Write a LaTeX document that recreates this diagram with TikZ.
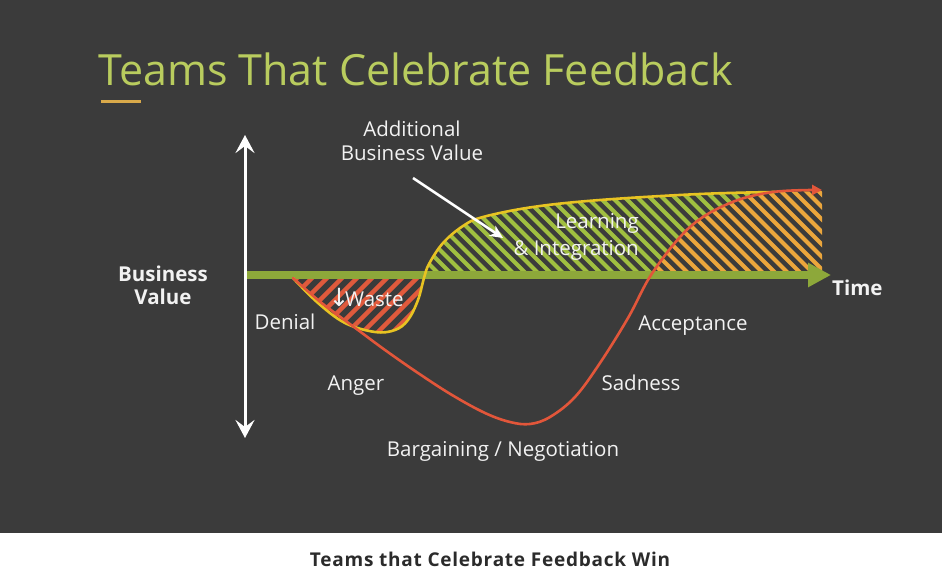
\documentclass[tikz,border=0pt]{standalone}
\usepackage{fontspec}
\setmainfont{Open Sans}
\newfontfamily\djv{DejaVu Sans}
\usetikzlibrary{arrows.meta}
\definecolor{bg}{HTML}{3B3B3B}
\definecolor{titleg}{HTML}{B9CC5E}
\definecolor{uline}{HTML}{D9A94A}
\definecolor{axisg}{HTML}{8DA83A}
\definecolor{hatchg}{HTML}{A0BE40}
\definecolor{curvey}{HTML}{E8C322}
\definecolor{curver}{HTML}{E2563A}
\definecolor{hatcho}{HTML}{EBA63C}
\definecolor{hatchr}{HTML}{E05A3C}
\definecolor{txtw}{HTML}{F2F2F2}
\definecolor{capt}{HTML}{2B2B2B}
\begin{document}
\begin{tikzpicture}[x=1pt,y=-1pt,
  lbl/.style={text=txtw, font=\fontsize{20.5}{24}\selectfont, inner sep=0pt, anchor=base},
  blbl/.style={text=txtw, font=\fontsize{20.5}{24}\selectfont\bfseries, inner sep=0pt, anchor=base},
  stripe/.style={line width=4pt},
  curve/.style={line width=2.6pt, line cap=round}]
\useasboundingbox (0,0) rectangle (942,569);
\fill[bg] (0,0) rectangle (942,533);
\fill[white] (0,533) rectangle (942,569);
% title
\node[anchor=base west, inner sep=0pt, text=titleg, font=\fontsize{43}{50}\selectfont] (title) at (98,86) {Teams That Celebrate Feedback};
\coordinate (ulA) at (101,102);
\coordinate (ulB) at (141,102);
\draw[uline, line width=3pt] (ulA) -- (ulB);
% hatched areas
\begin{scope}
\clip plot[smooth,tension=0.6] coordinates {(293,278) (318,303) (345,323) (375,332) (395,330) (408,320) (418,300) (424,278) (429,264) (443,243) (463,226) (483,217) (533,207) (600,200) (700,194) (775,192)} -- (822,191) -- (822,275) -- cycle;
 \begin{scope}
 \clip (280,275) rectangle (440,345);
 \foreach \i in {200,215,...,460} \draw[hatchr, line width=4.5pt] (\i,345) -- ++(80,-80);
 \end{scope}
 \begin{scope}
 \clip (420,150) rectangle (830,275);
 \clip plot[smooth,tension=0.6] coordinates {(293,278) (318,300) (335,313) (358,330) (385,350) (418,373) (452,395) (485,413) (510,422) (530,424) (550,417) (575,397) (600,363) (628,318) (653,272) (690,227) (730,203) (773,192) (827,190)} -- (827,100) -- (280,100) -- cycle;
 \foreach \i in {320,332.5,...,840} \draw[hatchg, stripe] (\i,180) -- ++(100,100);
 \end{scope}
 \begin{scope}
 \clip (420,150) rectangle (830,275);
 \clip plot[smooth,tension=0.6] coordinates {(293,278) (318,300) (335,313) (358,330) (385,350) (418,373) (452,395) (485,413) (510,422) (530,424) (550,417) (575,397) (600,363) (628,318) (653,272) (690,227) (730,203) (773,192) (827,190)} -- (900,190) -- (900,500) -- (280,500) -- cycle;
 \foreach \i in {320,332.5,...,840} \draw[hatcho, stripe] (\i,180) -- ++(100,100);
 \end{scope}
\end{scope}
% green time axis
\coordinate (xO) at (245,275);
\coordinate (xE) at (831,275);
\draw[axisg, line width=7.5pt, -{Triangle[length=23pt,width=23pt]}] (xO) -- (xE);
% yellow curve
\draw[curvey, curve] plot[smooth,tension=0.6] coordinates {(293,278) (318,303) (345,323) (375,332) (395,330) (408,320) (418,300) (424,278) (429,264) (443,243) (463,226) (483,217) (533,207) (600,200) (700,194) (775,192)};
% red curve
\draw[curver, curve, -{Triangle[length=10pt,width=10pt]}] plot[smooth,tension=0.6] coordinates {(293,278) (318,300) (335,313) (358,330) (385,350) (418,373) (452,395) (485,413) (510,422) (530,424) (550,417) (575,397) (600,363) (628,318) (653,272) (690,227) (730,203) (773,192) (822,190)};
% vertical axis
\coordinate (yT) at (245,135);
\coordinate (yB) at (245,438);
\draw[white, line width=3pt, {Stealth[length=18pt,width=19pt,inset=7pt]}-{Stealth[length=18pt,width=19pt,inset=7pt]}] (yB) -- (yT);
% pointer arrow
\coordinate (pS) at (413,178);
\coordinate (pE) at (503,238);
\draw[white, line width=2.6pt, -{Stealth[length=13pt,width=12pt,inset=4pt]}] (pS) -- (pE);
% labels
\node[blbl] (bv1) at (163,282) {Business};
\node[blbl] (bv2) at (163,305) {Value};
\node[blbl, anchor=base west] (time) at (832,295) {Time};
\node[lbl] (add1) at (412,137) {Additional};
\node[lbl] (add2) at (412,161) {Business Value};
\node[lbl, anchor=base east] (learn1) at (639,229) {Learning};
\node[lbl, anchor=base east] (learn2) at (639,256) {\& Integration};
\node[lbl, anchor=base west] (waste) at (331,306) {\makebox[14pt][l]{\djv\fontsize{25}{25}\selectfont\kern-2.5pt ↓}Waste};
\node[lbl] (denial) at (285,329) {Denial};
\node[lbl] (anger) at (356,390) {Anger};
\node[lbl] (barg) at (503,456) {Bargaining / Negotiation};
\node[lbl] (sad) at (641,390) {Sadness};
\node[lbl] (acc) at (693,330) {Acceptance};
\node[anchor=base, inner sep=0pt, text=capt, font=\fontsize{19}{21}\selectfont\bfseries\addfontfeatures{LetterSpace=4}] (cap) at (490,566) {Teams that Celebrate Feedback Win};
\end{tikzpicture}
\end{document}
